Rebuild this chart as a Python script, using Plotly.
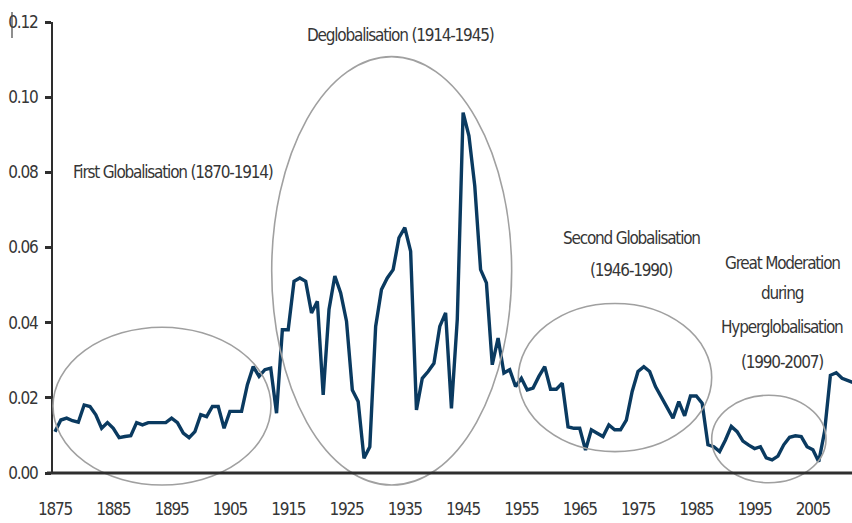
import plotly.graph_objects as go

# ---------------- data ----------------
years = list(range(1875, 2013))
values = [
    0.0110, 0.0141, 0.0146, 0.0139, 0.0135, 0.0181, 0.0177, 0.0155, 0.0119, 0.0134,  # 1875-1884
    0.0119, 0.0094, 0.0097, 0.0099, 0.0134, 0.0128, 0.0134, 0.0134, 0.0134, 0.0134,  # 1885-1894
    0.0146, 0.0134, 0.0106, 0.0094, 0.0110, 0.0155, 0.0150, 0.0177, 0.0177, 0.0119,  # 1895-1904
    0.0164, 0.0164, 0.0164, 0.0235, 0.0283, 0.0257, 0.0275, 0.0279, 0.0159, 0.0381,  # 1905-1914
    0.0381, 0.0510, 0.0519, 0.0510, 0.0426, 0.0457, 0.0208, 0.0435, 0.0524, 0.0479,  # 1915-1924
    0.0404, 0.0221, 0.0190, 0.0039, 0.0070, 0.0390, 0.0488, 0.0519, 0.0541, 0.0626,  # 1925-1934
    0.0653, 0.0590, 0.0168, 0.0252, 0.0270, 0.0292, 0.0390, 0.0426, 0.0172, 0.0408,  # 1935-1944
    0.0959, 0.0897, 0.0764, 0.0541, 0.0506, 0.0288, 0.0359, 0.0266, 0.0275, 0.0230,  # 1945-1954
    0.0252, 0.0221, 0.0226, 0.0257, 0.0283, 0.0223, 0.0223, 0.0239, 0.0123, 0.0119,  # 1955-1964
    0.0119, 0.0061, 0.0115, 0.0106, 0.0097, 0.0128, 0.0115, 0.0115, 0.0141, 0.0217,  # 1965-1974
    0.0270, 0.0283, 0.0270, 0.0230, 0.0203, 0.0172, 0.0146, 0.0190, 0.0152, 0.0205,  # 1975-1984
    0.0205, 0.0186, 0.0075, 0.0070, 0.0057, 0.0088, 0.0124, 0.0110, 0.0085, 0.0074,  # 1985-1994
    0.0065, 0.0070, 0.0040, 0.0035, 0.0045, 0.0075, 0.0095, 0.0099, 0.0097, 0.0070,  # 1995-2004
    0.0062, 0.0030, 0.0110, 0.0260, 0.0267, 0.0252, 0.0245, 0.0240,                  # 2005-2012
]
x_tick_vals = list(range(1875, 2006, 10))
y_tick_vals = [0.00, 0.02, 0.04, 0.06, 0.08, 0.10, 0.12]

# period labels (text lines) and period ellipses (data units: x0, x1, y0, y1)
period_labels = [
    (["First Globalisation (1870-1914)"], 1895.3, [0.0801]),
    (["Deglobalisation (1914-1945)"], 1934.2, [0.1165]),
    (["Second Globalisation", "(1946-1990)"], 1973.8, [0.0625, 0.0540]),
    (["Great Moderation", "during", "Hyperglobalisation", "(1990-2007)"], 1999.7,
     [0.0559, 0.0479, 0.0388, 0.0295]),
]
period_ellipses = [
    (1874.66, 1912.05, -0.0032, 0.0388),
    (1912.17, 1953.33, -0.0032, 0.1108),
    (1954.47, 1987.64, 0.0057, 0.0451),
    (1987.64, 2007.25, -0.0026, 0.0207),
]

# ---------------- figure ----------------
X_RANGE = [1875 - 2 / 5.83, 1875 + 797 / 5.83]
Y_RANGE = [0.0, 0.12]
FONT = "DejaVu Sans Condensed, DejaVu Sans, sans-serif"
TXT = "#363636"
FS = 17


def tight(t):
    return f'<span style="letter-spacing:-1.2px">{t}</span>'


def to_px(v):
    return (v - X_RANGE[0]) / (X_RANGE[1] - X_RANGE[0])


def to_py(v):
    return (v - Y_RANGE[0]) / (Y_RANGE[1] - Y_RANGE[0])


fig = go.Figure()
fig.add_trace(go.Scatter(
    x=years, y=values, mode="lines",
    line=dict(color="#0a3a60", width=3.4),
    hoverinfo="x+y", showlegend=False,
))

shapes = []
for (x0, x1, y0, y1) in period_ellipses:
    shapes.append(dict(
        type="circle", xref="paper", yref="paper",
        x0=to_px(x0), x1=to_px(x1), y0=to_py(y0), y1=to_py(y1),
        line=dict(color="#a0a0a0", width=1.6), layer="above",
    ))
# x-axis baseline (extends slightly left of the y axis)
shapes.append(dict(type="line", xref="paper", yref="paper",
                   x0=-0.0075, x1=1.0, y0=0, y1=0,
                   line=dict(color="#2e2e2e", width=3)))
# small vertical mark left of the top label
shapes.append(dict(type="line", xref="paper", yref="paper",
                   x0=-41 / 799, x1=-41 / 799,
                   y0=1 + 10 / 451, y1=1 - 16 / 451,
                   line=dict(color="#444444", width=1.2)))

annotations = []
for lines, xc, ys in period_labels:
    for text, yc in zip(lines, ys):
        annotations.append(dict(
            x=xc, y=yc, xref="x", yref="y", text=tight(text), showarrow=False,
            xanchor="center", yanchor="middle",
            font=dict(family=FONT, size=FS, color=TXT),
        ))

fig.update_layout(
    width=852, height=523,
    margin=dict(l=53, r=0, t=22, b=50),
    paper_bgcolor="white", plot_bgcolor="white",
    shapes=shapes, annotations=annotations,
    font=dict(family=FONT, size=FS, color=TXT),
    xaxis=dict(
        range=X_RANGE, tickvals=x_tick_vals,
        ticktext=[tight(str(v)) for v in x_tick_vals],
        showgrid=False, zeroline=False, showline=False,
        ticks="", ticklabelstandoff=24, automargin=False,
        tickfont=dict(family=FONT, size=FS, color=TXT),
    ),
    yaxis=dict(
        range=Y_RANGE, tickvals=y_tick_vals,
        ticktext=[tight(f"{v:.2f}") for v in y_tick_vals],
        showgrid=False, zeroline=False, automargin=False,
        showline=True, linecolor="#2e2e2e", linewidth=2,
        ticks="outside", ticklen=6, tickwidth=2.5, tickcolor="#2e2e2e",
        ticklabelstandoff=4,
        tickfont=dict(family=FONT, size=FS, color=TXT),
    ),
)

fig.write_html(
    "out.html",
    config={"displayModeBar": False},
    post_script="document.body.style.margin='0';document.body.style.overflow='hidden';",
)
